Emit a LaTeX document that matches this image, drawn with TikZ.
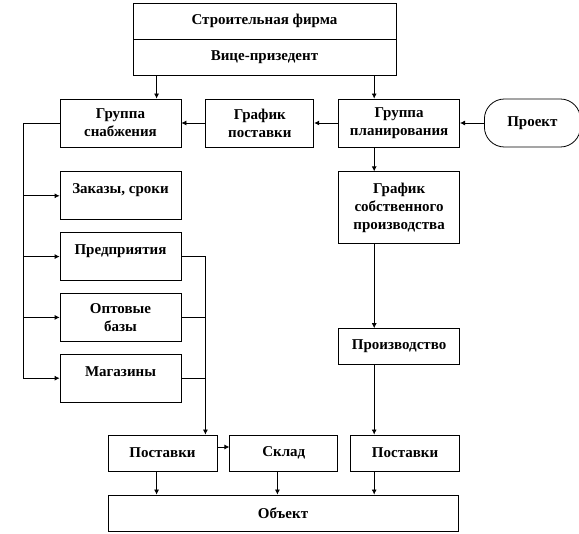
\documentclass[tikz,border=0pt]{standalone}
\usepackage{fontspec}
\setmainfont{Liberation Serif}
\usetikzlibrary{arrows.meta,positioning}
\begin{document}
\begin{tikzpicture}[x=1pt,y=-1pt,font=\fontsize{15}{18}\selectfont\bfseries,line width=0.8pt,box/.style={draw,align=center,inner sep=2pt,minimum height=48pt},arr/.style={-{Latex[length=5pt,width=5pt]}},uptext/.style={text depth=14pt}]
\useasboundingbox (0,0) rectangle (579,534);
\node[box,minimum width=263pt,minimum height=36pt] (firm) at (264.5,21) {Строительная фирма};
\node[box,minimum width=263pt,minimum height=36pt,below=-0.8pt of firm] (vp) {Вице-призедент};
\node[box,minimum width=121pt] (snab) at (120.5,123) {Группа\\снабжения};
\node[box,minimum width=108pt,right=24pt of snab] (graf) {График\\поставки};
\node[box,minimum width=121pt,right=24pt of graf] (plan) {Группа\\планирования};
\node[box,minimum width=96pt,rounded corners=20pt,right=24pt of plan] (proj) {Проект};
\node[box,minimum width=121pt,uptext,below=24pt of snab] (zak) {Заказы, сроки};
\node[box,minimum width=121pt,uptext,below=12pt of zak] (pred) {Предприятия};
\node[box,minimum width=121pt,below=12pt of pred] (opt) {Оптовые\\базы};
\node[box,minimum width=121pt,uptext,below=12pt of opt] (mag) {Магазины};
\node[box,minimum width=121pt,minimum height=72pt,below=24pt of plan] (sobst) {График\\собственного\\производства};
\node[box,minimum width=121pt,minimum height=36pt,below=84pt of sobst] (proizv) {Производство};
\node[box,minimum width=109pt,minimum height=36pt] (post1) at (162.5,453) {Поставки};
\node[box,minimum width=108pt,minimum height=36pt,right=12pt of post1] (sklad) {Склад};
\node[box,minimum width=109pt,minimum height=36pt,right=12pt of sklad] (post2) {Поставки};
\node[box,minimum width=350pt,minimum height=36pt] (obj) at (283,513) {Объект};
\draw[arr] ([xshift=24pt]vp.south west) -- ([xshift=24pt]vp.south west |- snab.north);
\draw[arr] ([xshift=36pt]plan.north west |- vp.south) -- ([xshift=36pt]plan.north west);
\draw[arr] (proj) -- (plan); \draw[arr] (plan) -- (graf); \draw[arr] (graf) -- (snab);
\draw[arr] ([xshift=36pt]plan.south west) -- ([xshift=36pt]sobst.north west);
\draw[arr] ([xshift=36pt]sobst.south west) -- ([xshift=36pt]proizv.north west);
\draw[arr] ([xshift=36pt]proizv.south west) -- ([xshift=24pt]post2.north west);
\draw[arr] (snab.west) -- ++(-36,0) |- (mag.west);
\foreach \n in {zak,pred,opt} \draw[arr] ([xshift=-36pt]\n.west) -- (\n.west);
\draw[arr] (pred.east) -- ++(24,0) coordinate (rbus) -- (rbus |- post1.north);
\draw (opt.east) -- (opt.east -| rbus); \draw (mag.east) -- (mag.east -| rbus);
\draw[arr] ([yshift=6pt]post1.east) -- ([yshift=6pt]sklad.west);
\draw[arr] ([xshift=49pt]post1.south west) -- ([xshift=49pt]post1.south west |- obj.north);
\draw[arr] ([xshift=48pt]sklad.south west) -- ([xshift=48pt]sklad.south west |- obj.north);
\draw[arr] ([xshift=24pt]post2.south west) -- ([xshift=24pt]post2.south west |- obj.north);
\end{tikzpicture}
\end{document}
